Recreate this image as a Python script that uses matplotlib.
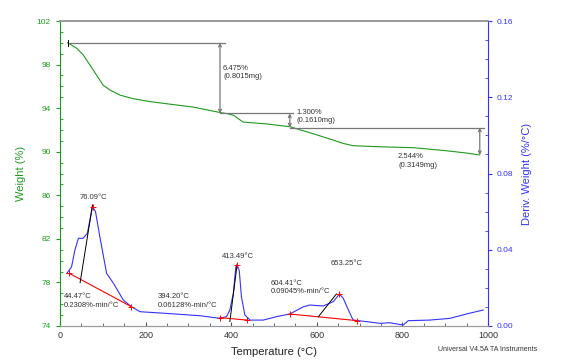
import numpy as np
import matplotlib.pyplot as plt
from matplotlib.ticker import MultipleLocator

plt.rcParams['font.family'] = ['Liberation Sans', 'DejaVu Sans']

# Dane: krzywa TG (masa w %)
temp_w = [18, 39, 54, 70, 86, 101, 117, 140, 171, 210, 250, 311, 374, 390, 405,
          418, 428, 483, 514, 537, 600, 640, 661, 685, 750, 825, 900, 950, 981]
weight = [100.0, 99.5, 98.9, 97.96, 97.0, 96.1, 95.66, 95.2, 94.87, 94.6, 94.4,
          94.1, 93.6, 93.5, 93.35, 93.0, 92.72, 92.55, 92.4, 92.3, 91.55, 91.05,
          90.77, 90.55, 90.45, 90.37, 90.1, 89.88, 89.7]

# Dane: krzywa DTG (%/°C)
temp_d = [16, 27, 35, 43, 54, 64, 70, 76, 83, 93, 109, 125, 148, 167, 187, 249,
          327, 374, 389, 397, 405, 411, 414, 419, 424, 432, 444, 475, 506, 537,
          569, 584, 615, 639, 653, 662, 674, 685, 716, 748, 771, 802, 814, 864,
          911, 950, 989]
deriv = [0.0276, 0.031, 0.040, 0.046, 0.046, 0.0486, 0.0556, 0.0626, 0.060,
         0.047, 0.0276, 0.0224, 0.0136, 0.0101, 0.0075, 0.0066, 0.0054, 0.004,
         0.0049, 0.0084, 0.017, 0.031, 0.032, 0.029, 0.0154, 0.0058, 0.0031,
         0.0031, 0.0049, 0.0063, 0.0101, 0.011, 0.0105, 0.0128, 0.0168, 0.0145,
         0.0084, 0.0031, 0.0023, 0.0014, 0.0017, 0.0005, 0.0028, 0.0031, 0.004,
         0.0063, 0.0084]

# Kroki masy: (T poziomej linii start, T koniec, T pionowej, W gora, W dol, opis)
steps_x0 = [18, 374, 537]
steps_x1 = [385, 545, 990]
steps_xv = [374, 537, 981]
steps_top = [100.0, 93.52, 92.22]
steps_bot = [93.52, 92.22, 89.70]
steps_txt = ['6.475%\n(0.8015mg)', '1.300%\n(0.1610mg)', '2.544%\n(0.3149mg)']
steps_tpos = [(381, 98.0), (553, 93.95), (790, 89.85)]

# Linie bazowe pikow (czerwone) i styczne (czarne)
base_t = [(22, 167), (374, 437), (537, 695)]
base_d = [(0.0276, 0.0101), (0.0044, 0.0031), (0.0063, 0.0028)]
peak_t = [76, 414, 653]
peak_d = [0.0626, 0.032, 0.0168]
tan_t = [(47, 76), (397, 414), (604, 646)]
tan_d = [(0.0227, 0.0635), (0.0023, 0.0324), (0.0049, 0.0168)]
peak_lbl = ['76.09°C', '413.49°C', '653.25°C']
peak_lpos = [(77, 0.0673), (415, 0.0364), (671, 0.0329)]
onset_lbl = ['44.47°C\n0.2308%-min/°C', '394.20°C\n0.06128%-min/°C',
             '604.41°C\n0.09045%-min/°C']
onset_lpos = [(9, 0.0172), (229, 0.0172), (493, 0.0243)]

green = '#1e9a1e'
blue = '#3333ff'

fig = plt.figure(figsize=(5.74, 3.64), dpi=100)
ax = fig.add_axes([0.1045, 0.1044, 0.7455, 0.8379])
ax2 = ax.twinx()

ax.plot(temp_w, weight, color=green, lw=0.8)
ax2.plot(temp_d, deriv, color=blue, lw=0.8)

# strzalki kroków masy
for i in range(3):
    ax.plot([steps_x0[i], steps_x1[i]], [steps_top[i]] * 2, color='#777777', lw=0.9)
    ax.annotate('', xy=(steps_xv[i], steps_bot[i]), xytext=(steps_xv[i], steps_top[i]),
                arrowprops=dict(arrowstyle='<->', color='#777777', lw=0.9,
                                mutation_scale=5, shrinkA=0, shrinkB=0))
    ax.text(steps_tpos[i][0], steps_tpos[i][1], steps_txt[i], fontsize=5.5,
            color='#333333', va='top', ha='left', linespacing=1.3)
ax.plot([steps_x0[0]] * 2, [steps_top[0] - 0.25, steps_top[0] + 0.25], color='k', lw=0.7)

# piki DTG
for i in range(3):
    ax2.plot(base_t[i], base_d[i], color='red', lw=0.8)
    ax2.plot(tan_t[i], tan_d[i], color='k', lw=0.7)
    ax2.plot(list(base_t[i]) + [peak_t[i]], list(base_d[i]) + [peak_d[i]],
             ls='none', marker='+', color='red', ms=5, mew=0.7)
    ax2.text(peak_lpos[i][0], peak_lpos[i][1], peak_lbl[i], fontsize=5.5,
             color='#333333', ha='center', va='center')
    ax2.text(onset_lpos[i][0], onset_lpos[i][1], onset_lbl[i], fontsize=5.5,
             color='#333333', ha='left', va='top', linespacing=1.3)

ax.set_xlim(0, 1000)
ax.set_ylim(74, 102)
ax2.set_ylim(0, 0.16)

ax.set_yticks([74, 78, 82, 86, 90, 94, 98, 102])
ax.yaxis.set_minor_locator(MultipleLocator(1))
ax.xaxis.set_major_locator(MultipleLocator(200))
ax.xaxis.set_minor_locator(MultipleLocator(50))
ax2.set_yticks([0, 0.04, 0.08, 0.12, 0.16])
ax2.set_yticklabels(['0.00', '0.04', '0.08', '0.12', '0.16'])
ax2.yaxis.set_minor_locator(MultipleLocator(0.01))

ax.tick_params(axis='y', which='major', colors=green, labelsize=6, direction='out', length=3)
ax.tick_params(axis='y', which='minor', colors=green, direction='in', length=2)
ax.tick_params(axis='x', which='major', colors='#555555', labelsize=6.5, direction='in', length=3)
ax.tick_params(axis='x', which='minor', colors='#555555', direction='in', length=2)
ax.tick_params(axis='x', labelcolor='#333333')
ax2.tick_params(axis='y', which='major', colors=blue, labelsize=6, direction='out', length=3)
ax2.tick_params(axis='y', which='minor', colors=blue, direction='in', length=2)

ax.spines['left'].set_color(green)
ax2.spines['left'].set_visible(False)
ax2.spines['right'].set_color(blue)
ax.spines['right'].set_visible(False)
for a in (ax, ax2):
    a.spines['top'].set_color('#999999')
    a.spines['bottom'].set_color('#999999')
    a.spines['top'].set_linewidth(1.2)

ax.set_ylabel('Weight (%)', color=green, fontsize=8, labelpad=8)
ax2.set_ylabel('Deriv. Weight (%/°C)', color=blue, fontsize=8, labelpad=6)
ax.set_xlabel('Temperature (°C)', color='#222222', fontsize=8, labelpad=5)
fig.text(0.763, 0.035, 'Universal V4.5A TA Instruments', fontsize=5, color='#333333')

fig.savefig('out.png', dpi=100)
